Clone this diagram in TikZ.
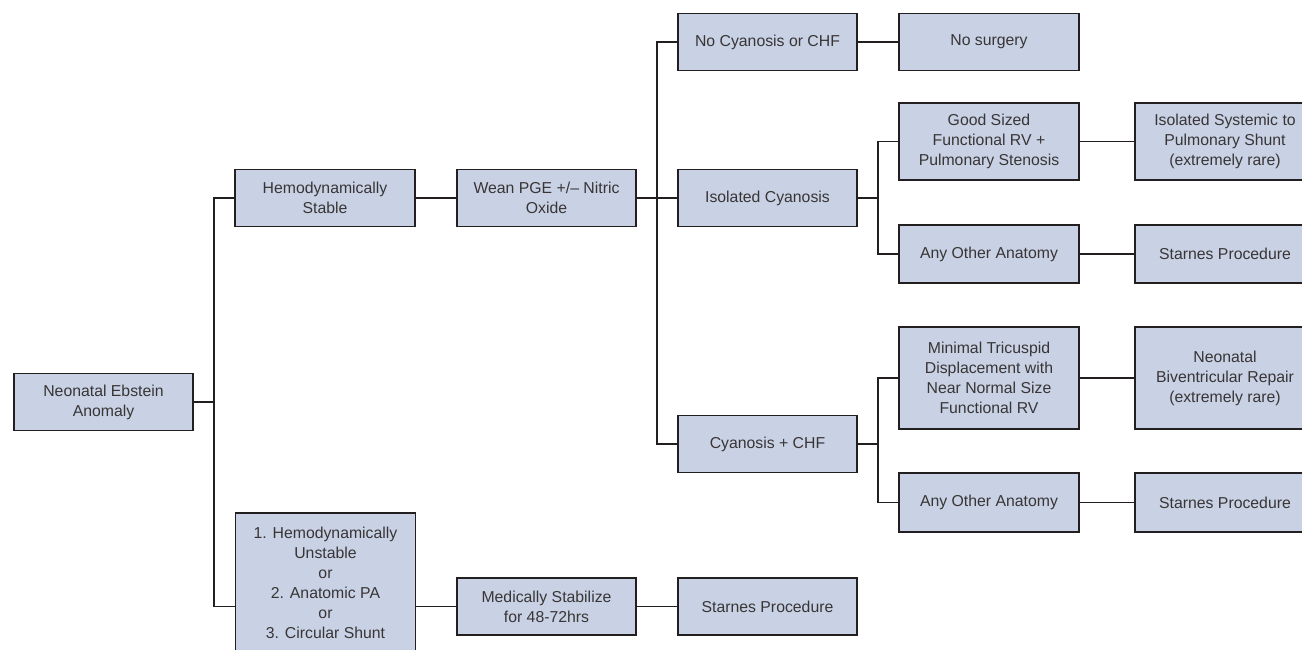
\documentclass[tikz,border=0pt]{standalone}
\usepackage{fontspec}
\setmainfont{Liberation Sans}
\usepackage{tikz}
\usetikzlibrary{arrows,shapes}
\definecolor{boxfill}{RGB}{200,210,228}
\definecolor{ink}{RGB}{35,31,32}
\tikzset{
  flowbox/.style={draw=ink, fill=boxfill, line width=1.6pt, align=center,
    minimum width=180, minimum height=57, inner sep=2pt, text=ink!90,
    font=\fontsize{15.8}{20}\selectfont},
  wire/.style={draw=ink, line width=1.6pt}
}
\begin{document}
\begin{tikzpicture}[x=1pt,y=1pt,yscale=-1,xscale=1]
                  \useasboundingbox (0,0) rectangle (1302,649);
                  %Shape: Rectangle [root]
                  \node[flowbox, minimum width=179] (root) at (103.5,402) {Neonatal Ebstein\\Anomaly};
                  %Shape: Rectangle [first level]
                  \node[flowbox] (stable) at (325,198) {Hemodynamically\\Stable};
                  \node[flowbox, minimum height=140, inner sep=0pt] (unstable) at (325.5,583) {1. Hemodynamically\\Unstable\\or\\2. Anatomic PA\\or\\3. Circular Shunt};
                  %Shape: Rectangle [second level]
                  \node[flowbox, minimum width=179] (wean) at (546.5,198) {Wean PGE +/-- Nitric\\Oxide};
                  \node[flowbox, minimum width=179] (medstab) at (546.5,606.5) {Medically Stabilize\\for 48-72hrs};
                  %Shape: Rectangle [third level]
                  \node[flowbox, minimum width=179] (nocyan) at (767.5,42) {No Cyanosis or CHF};
                  \node[flowbox, minimum width=179] (isocyan) at (767.5,198) {Isolated Cyanosis};
                  \node[flowbox, minimum width=179] (cyanchf) at (767.5,444) {Cyanosis + CHF};
                  \node[flowbox, minimum width=179] (starnesA) at (767.5,606.5) {Starnes Procedure};
                  %Shape: Rectangle [fourth level]
                  \node[flowbox] (nosurg) at (989,42) {No surgery};
                  \node[flowbox, minimum height=77] (goodsize) at (989,141.5) {Good Sized\\Functional RV +\\Pulmonary Stenosis};
                  \node[flowbox, minimum height=58] (otherA) at (989,254) {Any Other Anatomy};
                  \node[flowbox, minimum height=102] (minimal) at (989,378) {Minimal Tricuspid\\Displacement with\\Near Normal Size\\Functional RV};
                  \node[flowbox, minimum height=59] (otherB) at (989,502.5) {Any Other Anatomy};
                  %Shape: Rectangle [fifth level]
                  \node[flowbox, minimum height=77] (shunt) at (1225,141.5) {Isolated Systemic to\\Pulmonary Shunt\\(extremely rare)};
                  \node[flowbox, minimum height=58] (starnesB) at (1225,254) {Starnes Procedure};
                  \node[flowbox, minimum height=102] (biv) at (1225,378) {Neonatal\\Biventricular Repair\\(extremely rare)};
                  \node[flowbox, minimum height=59] (starnesC) at (1225,502.5) {Starnes Procedure};

                  %Straight Lines [junctions]
                  \coordinate (jroot) at (214,402);
                  \coordinate (jwean) at (657,198);
                  \coordinate (jiso) at (878,198);
                  \coordinate (jchf) at (878,444);
                  %Straight Lines [connectors]
                  \draw[wire] (root.east) -- (jroot);
                  \draw[wire] (stable.west) -| (jroot) |- (unstable.west |- medstab.west);
                  \draw[wire] (stable.east) -- (wean.west);
                  \draw[wire] (unstable.east |- medstab.west) -- (medstab.west);
                  \draw[wire] (medstab.east) -- (starnesA.west);
                  \draw[wire] (wean.east) -- (jwean) -- (isocyan.west);
                  \draw[wire] (nocyan.west) -| (jwean) |- (cyanchf.west);
                  \draw[wire] (nocyan.east) -- (nosurg.west);
                  \draw[wire] (isocyan.east) -- (jiso);
                  \draw[wire] (goodsize.west) -| (jiso) |- (otherA.west);
                  \draw[wire] (cyanchf.east) -- (jchf);
                  \draw[wire] (minimal.west) -| (jchf) |- (otherB.west);
                  \draw[wire] (goodsize.east) -- (shunt.west);
                  \draw[wire] (otherA.east) -- (starnesB.west);
                  \draw[wire] (minimal.east) -- (biv.west);
                  \draw[wire] (otherB.east) -- (starnesC.west);
\end{tikzpicture}
\end{document}
